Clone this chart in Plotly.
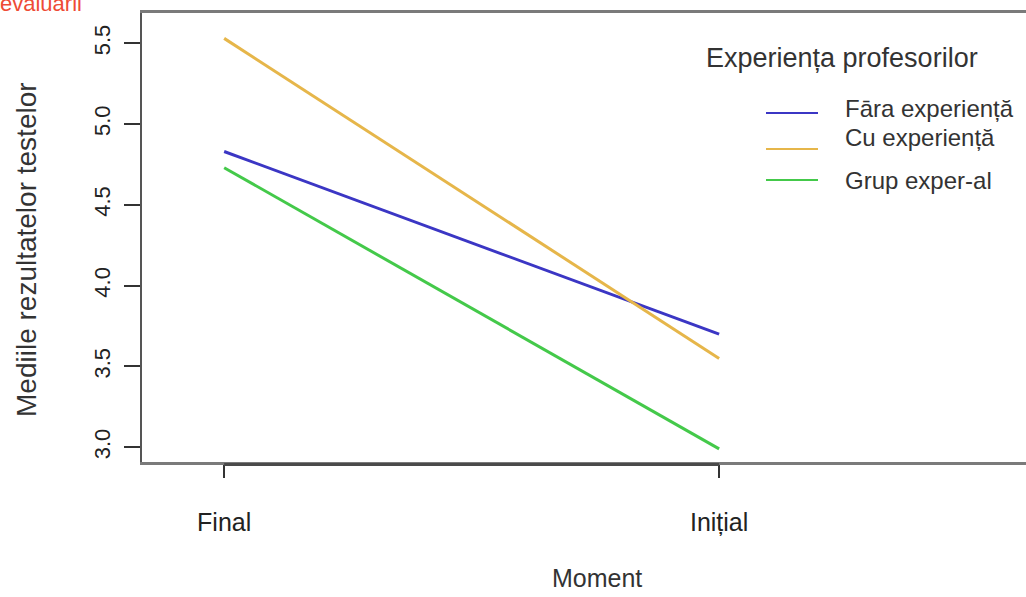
import plotly.graph_objects as go

# ---- data ----
moments = ["Final", "Inițial"]
x_pos = [1, 2]
series_names = ["Fāra experiență", "Cu experiență", "Grup exper-al"]
fara_exp = [4.83, 3.70]
cu_exp = [5.53, 3.55]
grup_exp = [4.73, 2.99]
y_ticks = [3.0, 3.5, 4.0, 4.5, 5.0, 5.5]
y_tick_labels = ["3.0", "3.5", "4.0", "4.5", "5.0", "5.5"]

colors = ["#3b36c4", "#e6b64a", "#44c94a"]
series_vals = [fara_exp, cu_exp, grup_exp]

FONT = "Liberation Sans, Arial, sans-serif"
W, H = 1026, 597
L, R, T, B = 142, 0, 13, 135
PW, PH = W - L - R, H - T - B

def px_x(px):
    return (px - L) / PW

def px_y(py):
    return (H - B - py) / PH

fig = go.Figure()
for name, vals, c in zip(series_names, series_vals, colors):
    fig.add_trace(go.Scatter(x=x_pos, y=vals, mode="lines", name=name,
                             line=dict(color=c, width=3), showlegend=False))

fig.update_layout(
    width=W, height=H,
    margin=dict(l=L, r=R, t=T, b=B, autoexpand=False),
    paper_bgcolor="white", plot_bgcolor="white",
    font=dict(family=FONT, size=22, color="#333333"),
    xaxis=dict(range=[0.834, 2.62], tickvals=x_pos, ticktext=moments,
               showgrid=False, zeroline=False, showline=True, mirror=True,
               linecolor="#7a7a7a", linewidth=2.5,
               ticks="outside", ticklen=13, tickwidth=1.5, tickcolor="#333",
               ticklabelstandoff=23, tickfont=dict(size=25, color="#222")),
    yaxis=dict(range=[2.909, 5.687], tickvals=y_ticks, ticktext=y_tick_labels,
               showgrid=False, zeroline=False, showline=True, mirror=False,
               linecolor="#555", linewidth=2,
               ticks="outside", ticklen=16, tickwidth=1.5, tickcolor="#333",
               tickangle=-90, ticklabelstandoff=5,
               tickfont=dict(size=22, color="#222")),
)

# heavier axis segment between the two ticks (R-style axis line)
fig.add_shape(type="line", xref="x", yref="paper", x0=1, x1=2,
              y0=px_y(464.5), y1=px_y(464.5), line=dict(color="#4a4a4a", width=3))

# axis titles
fig.add_annotation(xref="paper", yref="paper", x=px_x(597), y=px_y(578),
                   text="Moment", showarrow=False, font=dict(size=25, color="#333"),
                   xanchor="center", yanchor="middle")
fig.add_annotation(xref="paper", yref="paper", x=px_x(27), y=px_y(250),
                   text="Mediile rezultatelor testelor", showarrow=False, textangle=-90,
                   font=dict(size=28, color="#333"), xanchor="center", yanchor="middle")

# clipped red caption at the very top
fig.add_annotation(xref="paper", yref="paper", x=px_x(-1), y=px_y(17),
                   text="evaluării", showarrow=False, font=dict(size=22, color="#ee4b35"),
                   xanchor="left", yanchor="bottom", borderpad=0)

# manual legend
fig.add_annotation(xref="paper", yref="paper", x=px_x(704), y=px_y(58),
                   text="Experiența profesorilor", showarrow=False,
                   font=dict(size=27, color="#333"), xanchor="left", yanchor="middle")
leg_text_y = [108, 137, 180]
leg_line_y = [113, 149, 180]
for name, c, ty, ly in zip(series_names, colors, leg_text_y, leg_line_y):
    fig.add_shape(type="line", xref="paper", yref="paper", x0=px_x(766), x1=px_x(818),
                  y0=px_y(ly), y1=px_y(ly), line=dict(color=c, width=2))
    fig.add_annotation(xref="paper", yref="paper", x=px_x(843), y=px_y(ty),
                       text=name, showarrow=False, font=dict(size=24, color="#333"),
                       xanchor="left", yanchor="middle")

fig.write_html("out.html")
